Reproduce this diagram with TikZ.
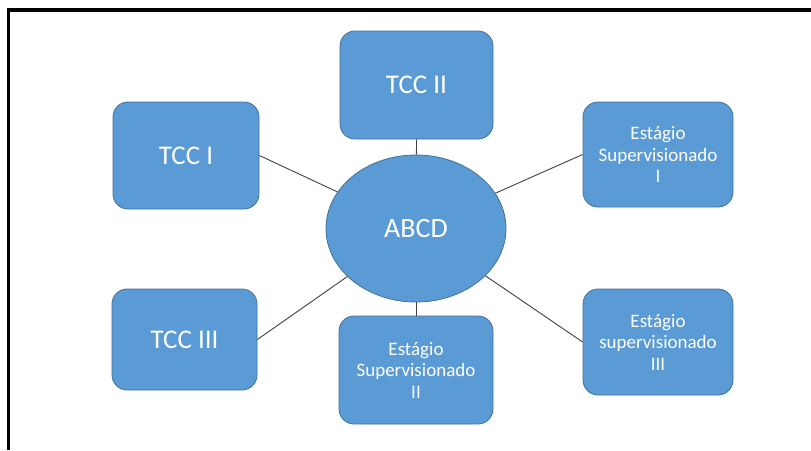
\documentclass[tikz,border=0pt]{standalone}
\usepackage{fontspec}
\setmainfont{Carlito}
\usetikzlibrary{shapes.geometric}
\definecolor{boxfill}{HTML}{5B9BD5}
\definecolor{boxline}{HTML}{41719C}
\definecolor{linkgray}{HTML}{404040}
\begin{document}
\begin{tikzpicture}[x=1pt,y=-1pt,
  card/.style={draw=boxline, fill=boxfill, line width=0.8pt, rounded corners=15pt,
    text=white, align=center, inner sep=0pt, font=\fontsize{27}{30}\selectfont},
  smallcard/.style={card, font=\fontsize{19}{21.5}\selectfont},
  hub/.style={ellipse, draw=boxline, fill=boxfill, line width=0.8pt, inner sep=0pt,
    minimum width=180pt, minimum height=147pt, text=white, font=\fontsize{28}{30}\selectfont},
  link/.style={draw=linkgray, line width=0.9pt}]
\useasboundingbox (0,0) rectangle (811,450);
\fill[white] (0,0) rectangle (811,450);
% frame: top and left edges
\draw[line width=3.6pt] (8.5,10) -- (811,10);
\draw[line width=3.4pt] (8.5,8.2) -- (8.5,450);

% central hub
\node[hub] (abcd) at (416,228.5) {ABCD};

% surrounding cards
\node[card, minimum width=146pt, minimum height=107pt] (tcc1) at (186,155.5) {TCC I};
\node[card, minimum width=153pt, minimum height=108pt] (tcc2) at (416.5,85) {TCC II};
\node[card, minimum width=145pt, minimum height=101pt] (tcc3) at (184.5,339.5) {TCC III};
\node[smallcard, minimum width=150pt, minimum height=105pt] (es1) at (658,154.5)
  {Estágio\\Supervisionado\\I};
\node[smallcard, minimum width=154pt, minimum height=108pt] (es2) at (416,370)
  {Estágio\\Supervisionado\\II};
\node[smallcard, minimum width=150pt, minimum height=106pt] (es3) at (658,342)
  {Estágio\\supervisionado\\III};

% connectors from each card towards the hub centre, clipped at its border
\draw[link] (tcc1.east) -- (abcd);
\draw[link] (tcc2.south) -- (abcd);
\draw[link] (es1.west) -- (abcd);
\draw[link] (tcc3.east) -- (abcd);
\draw[link] (es2.north) -- (abcd);
\draw[link] (es3.west) -- (abcd);
\end{tikzpicture}
\end{document}
